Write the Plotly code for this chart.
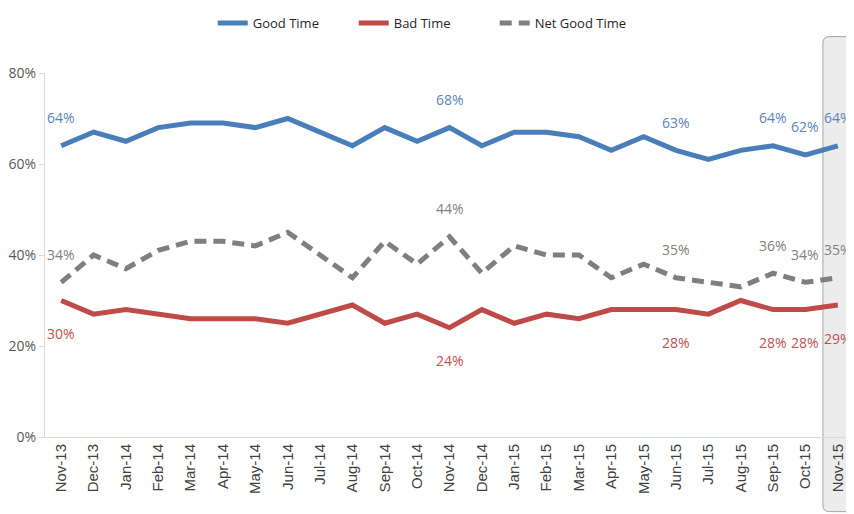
import plotly.graph_objects as go

months = ["Nov-13", "Dec-13", "Jan-14", "Feb-14", "Mar-14", "Apr-14", "May-14", "Jun-14",
          "Jul-14", "Aug-14", "Sep-14", "Oct-14", "Nov-14", "Dec-14", "Jan-15", "Feb-15",
          "Mar-15", "Apr-15", "May-15", "Jun-15", "Jul-15", "Aug-15", "Sep-15", "Oct-15", "Nov-15"]
good_time = [64, 67, 65, 68, 69, 69, 68, 70, 67, 64, 68, 65, 68, 64, 67, 67, 66, 63, 66, 63, 61, 63, 64, 62, 64]
bad_time = [30, 27, 28, 27, 26, 26, 26, 25, 27, 29, 25, 27, 24, 28, 25, 27, 26, 28, 28, 28, 27, 30, 28, 28, 29]
net_good = [34, 40, 37, 41, 43, 43, 42, 45, 40, 35, 43, 38, 44, 36, 42, 40, 40, 35, 38, 35, 34, 33, 36, 34, 35]
labeled_months = ["Nov-13", "Nov-14", "Jun-15", "Sep-15", "Oct-15", "Nov-15"]
y_ticks = [0, 20, 40, 60, 80]

BLUE = "#4a7ebb"
RED = "#be4b48"
GRAY = "#7f7f7f"
FONT = "Open Sans"

fig = go.Figure()
fig.add_trace(go.Scatter(x=months, y=good_time, name="Good Time", mode="lines",
                         line=dict(color=BLUE, width=5)))
fig.add_trace(go.Scatter(x=months, y=bad_time, name="Bad Time", mode="lines",
                         line=dict(color=RED, width=5)))
fig.add_trace(go.Scatter(x=months, y=net_good, name="Net Good Time", mode="lines",
                         line=dict(color=GRAY, width=5, dash="12px,7px")))

annotations = []
for i, m in enumerate(months):
    if m not in labeled_months:
        continue
    annotations.append(dict(x=m, y=good_time[i], text=f"{good_time[i]}%", showarrow=False,
                            yshift=28, font=dict(family=FONT, size=14, color="#5b84bd")))
    annotations.append(dict(x=m, y=net_good[i], text=f"{net_good[i]}%", showarrow=False,
                            yshift=28, font=dict(family=FONT, size=14, color="#808080")))
    annotations.append(dict(x=m, y=bad_time[i], text=f"{bad_time[i]}%", showarrow=False,
                            yshift=-33, font=dict(family=FONT, size=14, color="#c0504d")))

# rounded highlight box around the last month
x0, x1 = len(months) - 1.46, len(months) - 1 + 0.46
y0, y1 = -0.205, 1.1
rx, ry = 0.2, 0.018
path = (f"M {x0+rx},{y1} L {x1-rx},{y1} Q {x1},{y1} {x1},{y1-ry} "
        f"L {x1},{y0+ry} Q {x1},{y0} {x1-rx},{y0} L {x0+rx},{y0} Q {x0},{y0} {x0},{y0+ry} "
        f"L {x0},{y1-ry} Q {x0},{y1} {x0+rx},{y1} Z")

fig.update_layout(
    width=846, height=506,
    margin=dict(l=37, r=0, t=65, b=77, autoexpand=False),
    paper_bgcolor="white", plot_bgcolor="white",
    font=dict(family=FONT, color="#595959"),
    showlegend=True,
    legend=dict(orientation="h", xref="container", yref="container", x=0.492, xanchor="center",
                y=1.0, yanchor="top", font=dict(family=FONT, size=13, color="#262626"),
                entrywidth=96, entrywidthmode="pixels",
                tracegroupgap=0, bgcolor="rgba(0,0,0,0)"),
    shapes=[dict(type="path", xref="x", yref="paper", path=path, layer="below",
                 fillcolor="#ececec", line=dict(color="#a6a6a6", width=1))],
    annotations=annotations,
)
fig.update_xaxes(type="category", range=[-0.5, len(months) - 0.5], tickangle=-90,
                 showline=True, linecolor="#d9d9d9", linewidth=1, showgrid=False,
                 ticks="", automargin=False,
                 tickfont=dict(family="Liberation Sans", size=15, color="#404040"))
fig.update_yaxes(range=[0, 80], tickvals=y_ticks, ticktext=[f"{v}%" for v in y_ticks],
                 showline=True, linecolor="#d9d9d9", linewidth=1, showgrid=False,
                 ticks="outside", ticklen=5, tickcolor="#d9d9d9", zeroline=False,
                 automargin=False,
                 tickfont=dict(family=FONT, size=14, color="#595959"))

fig.write_html("out.html")
